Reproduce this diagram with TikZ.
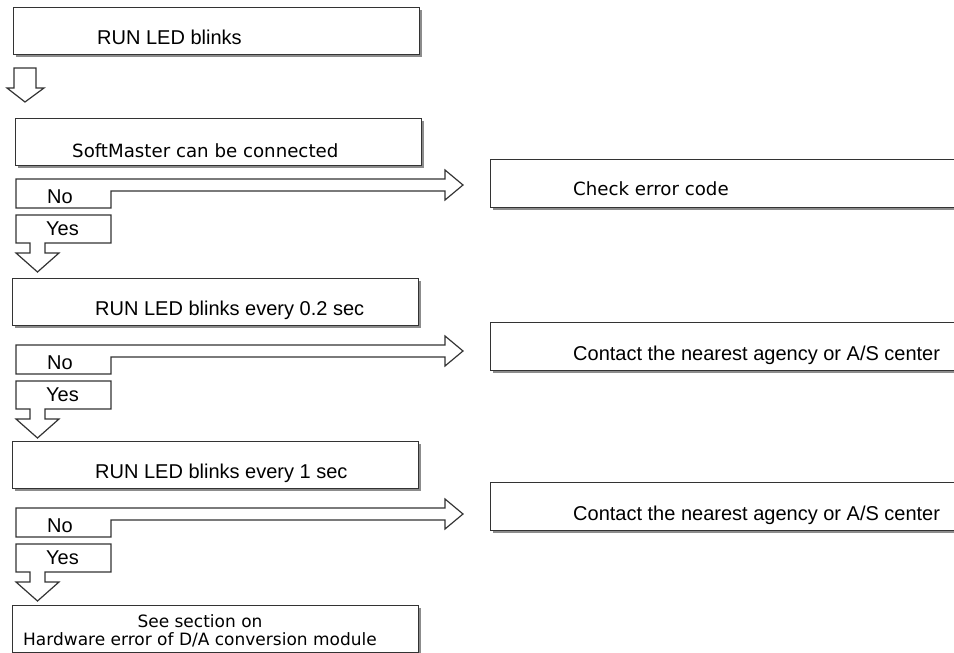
\documentclass[tikz,border=0pt]{standalone}
\usepackage{fontspec}
\newfontfamily\arialfont{Liberation Sans}
\newfontfamily\verdfont{DejaVu Sans}
\usetikzlibrary{positioning, shadows}

\begin{document}
\begin{tikzpicture}[
  x=1pt, y=-1pt,
  box/.style  = {draw=black!80, line width=1.4pt, fill=white,
                 minimum width=406pt, minimum height=47pt, inner sep=0pt,
                 anchor=north west,
                 drop shadow={shadow xshift=2.5pt, shadow yshift=-2.5pt,
                              fill=black!45, opacity=1}},
  rbox/.style = {box, minimum width=480pt, minimum height=48pt},
  txt/.style  = {inner sep=0pt, anchor=base west,
                 font=\arialfont\fontsize{20}{22}\selectfont},
  vtxt/.style = {txt, font=\verdfont\fontsize{18.2}{22}\selectfont},
  fat/.style  = {draw=black!80, line width=1.2pt, fill=white, line join=miter}
]
\clip (0,0) rectangle (954,653);

\node[box]  (blink) at (13,7)   {};
\node[box]  (conn)  at (15,118) {};
\node[box]  (fast)  at (12,278) {};
\node[box]  (slow)  at (12,441) {};
\node[box]  (see)   at (12,605) {};
\node[rbox] (errc)  at (490,159) {};
\node[rbox] (agc1)  at (490,322) {};
\node[rbox] (agc2)  at (490,482) {};

\node[txt]  (blinkt) at (97,45)   {RUN LED blinks};
\node[vtxt] (connt)  at (72,157)  {SoftMaster can be connected};
\node[txt]  (fastt)  at (95,315)  {RUN LED blinks every 0.2 sec};
\node[txt]  (slowt)  at (95,478)  {RUN LED blinks every 1 sec};
\node[vtxt] (errct)  at (573,195) {Check error code};
\node[txt]  (agc1t)  at (573,360) {Contact the nearest agency or A/S center};
\node[txt]  (agc2t)  at (573,520) {Contact the nearest agency or A/S center};
\node[vtxt, anchor=base, align=center,
      font=\verdfont\fontsize{17}{18}\selectfont] (seet) at (200,645)
      {See section on\\Hardware error of D/A conversion module};

\draw[fat] (14,68) -- (36,68) -- (36,88) -- (44,88) -- (25,102)
  -- (7,88) -- (14,88) -- cycle;

\foreach \t/\n in {179/a, 345/b, 508/c} {
  \draw[fat] (16,\t) -- (445,\t) -- (445,\t-9) -- (463,\t+6) -- (445,\t+21)
    -- (445,\t+12) -- (111,\t+12) -- (111,\t+29) -- (16,\t+29) -- cycle;
  \node[txt] (no\n) at (47,\t+24) {No};
  \draw[fat] (16,\t+36) -- (111,\t+36) -- (111,\t+64) -- (45,\t+64)
    -- (45,\t+74) -- (59,\t+74) -- (37.5,\t+93) -- (16,\t+74)
    -- (30,\t+74) -- (30,\t+64) -- (16,\t+64) -- cycle;
  \node[txt] (yes\n) at (46,\t+56) {Yes};
}
\end{tikzpicture}
\end{document}
